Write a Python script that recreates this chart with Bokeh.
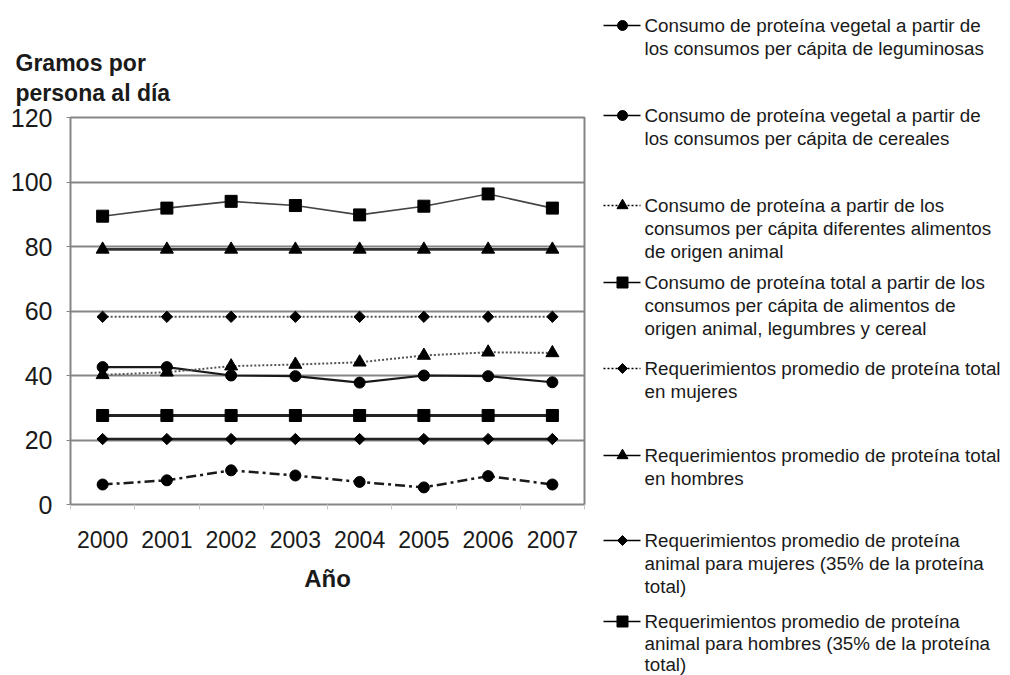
from bokeh.plotting import figure
from bokeh.layouts import row
from bokeh.models import Range1d, FixedTicker, Title
from bokeh.embed import file_html
from bokeh.resources import INLINE
from bokeh.core.properties import value

# ---------------- data ----------------
years = [2000, 2001, 2002, 2003, 2004, 2005, 2006, 2007]
leguminosas = [6.2, 7.5, 10.6, 9.0, 7.0, 5.3, 8.8, 6.2]
cereales = [42.6, 42.6, 40.0, 39.8, 37.8, 40.0, 39.8, 37.9]
animal = [40.2, 41.0, 42.9, 43.4, 44.1, 46.2, 47.2, 47.0]
total = [89.4, 91.9, 94.0, 92.7, 89.8, 92.5, 96.3, 91.9]
req_mujeres = [58.2, 58.2, 58.2, 58.2, 58.2, 58.2, 58.2, 58.2]
req_hombres = [79.1, 79.1, 79.1, 79.1, 79.1, 79.1, 79.1, 79.1]
req_animal_mujeres = [20.3, 20.3, 20.3, 20.3, 20.3, 20.3, 20.3, 20.3]
req_animal_hombres = [27.6, 27.6, 27.6, 27.6, 27.6, 27.6, 27.6, 27.6]
y_ticks = [0, 20, 40, 60, 80, 100, 120]

legend_labels = [
    "Consumo de proteína vegetal a partir de\nlos consumos per cápita de leguminosas",
    "Consumo de proteína vegetal a partir de\nlos consumos per cápita de cereales",
    "Consumo de proteína a partir de los\nconsumos per cápita diferentes alimentos\nde origen animal",
    "Consumo de proteína total a partir de los\nconsumos per cápita de alimentos de\norigen animal, legumbres y cereal",
    "Requerimientos promedio de proteína total\nen mujeres",
    "Requerimientos promedio de proteína total\nen hombres",
    "Requerimientos promedio de proteína\nanimal para mujeres (35% de la proteína\ntotal)",
    "Requerimientos promedio de proteína\nanimal para hombres (35% de la proteína\ntotal)",
]

FONT = "Liberation Sans"
INK = "#1a1a1a"
GRID = "#858585"
H = 675

# series styles: (values, marker, line_dash, line_color, line_width, marker_size, angle)
series = [
    (leguminosas, "circle", "10 4 3 4", "#1a1a1a", 2.5, 11, 0),
    (cereales, "circle", "solid", "#1a1a1a", 2.2, 11, 0),
    (animal, "triangle", "2 2", "#555555", 2.0, 13, 0),
    (total, "square", "solid", "#444444", 1.6, 12, 0),
    (req_mujeres, "square", "2 2", "#555555", 2.0, 8, 0.785398),
    (req_hombres, "triangle", "solid", "#333333", 2.6, 13, 0),
    (req_animal_mujeres, "square", "solid", "#222222", 2.6, 8, 0.785398),
    (req_animal_hombres, "square", "solid", "#222222", 2.8, 12, 0),
]
legend_series_dash = ["solid", "solid", "2 2", "solid", "2 2", "solid", "solid", "solid"]

# ---------------- main chart ----------------
p = figure(width=598, height=H,
           x_range=Range1d(1999.5, 2007.5), y_range=Range1d(0, 120),
           output_backend="svg", toolbar_location=None,
           min_border_left=70, min_border_right=14,
           min_border_top=117, min_border_bottom=H - 504)
p.background_fill_color = "white"
p.border_fill_color = "white"
p.outline_line_color = GRID
p.outline_line_width = 2

p.xgrid.visible = False
p.ygrid.grid_line_color = GRID
p.ygrid.grid_line_width = 2
p.yaxis.ticker = FixedTicker(ticks=y_ticks)
p.xaxis.ticker = FixedTicker(ticks=years, minor_ticks=[1999.5 + i for i in range(9)])
p.xaxis.major_label_overrides = {y: str(y) for y in years}

for ax in (p.xaxis, p.yaxis):
    ax.axis_line_color = None
    ax.major_label_text_font = FONT
    ax.major_label_text_color = INK
p.xaxis.major_tick_line_color = None
p.xaxis.major_label_text_font_size = "23px"
p.yaxis.major_label_text_font_size = "25px"
p.yaxis.major_tick_line_color = GRID
p.yaxis.major_tick_out = 4
p.yaxis.major_tick_in = 0
p.yaxis.minor_tick_line_color = None
p.xaxis.minor_tick_line_color = "#c8c8c8"
p.xaxis.minor_tick_out = 5
p.xaxis.minor_tick_in = 0
p.yaxis.major_label_standoff = 14
p.xaxis.major_label_standoff = 20

p.xaxis.axis_label = "Año"
p.xaxis.axis_label_text_font = FONT
p.xaxis.axis_label_text_font_size = "24px"
p.xaxis.axis_label_text_font_style = "bold"
p.xaxis.axis_label_text_color = INK
p.xaxis.axis_label_standoff = 14

p.add_layout(Title(text="Gramos por\npersona al día", align="left", offset=-55,
                   text_font=FONT, text_font_size="23px", text_font_style="bold",
                   text_color=INK, standoff=22, text_line_height=1.17), "above")

for vals, mk, dash, col, lw, ms, ang in series:
    p.line(years, vals, line_color=col, line_width=lw, line_dash=dash)
    p.scatter(years, vals, marker=mk, size=ms, angle=ang,
              fill_color="black", line_color="black")

# ---------------- legend panel ----------------
lg = figure(width=404, height=H, x_range=Range1d(0, 404), y_range=Range1d(H, 0),
            output_backend="svg", toolbar_location=None,
            x_axis_location=None, y_axis_location=None, min_border=0)
lg.grid.visible = False
lg.outline_line_color = None
lg.background_fill_color = "white"
lg.border_fill_color = "white"
for fig in (p, lg):
    if "frame_align" in fig.properties():
        fig.frame_align = False

entry_y = [25, 115, 205, 282, 368, 455, 540, 621]
line_pitch = [23, 23, 23, 23, 23, 23, 23, 21.5]
legend_marker_size = {"circle": 10, "square": 11, "triangle": 11}
for i, lab in enumerate(legend_labels):
    vals, mk, dash, col, lw, ms, ang = series[i]
    yy = entry_y[i]
    lg.line([5, 42], [yy, yy], line_color="black", line_width=1.6,
            line_dash=legend_series_dash[i])
    size = legend_marker_size[mk] if ang == 0 else 7
    lg.scatter([24], [yy], marker=mk, size=size, angle=-ang,
               fill_color="black", line_color="black")
    lines = lab.split("\n")
    lg.text([46] * len(lines), [yy + k * line_pitch[i] for k in range(len(lines))], text=lines,
            text_font=value(FONT), text_font_size="18.8px", text_color=INK,
            text_baseline="middle", text_align="left")

layout = row(p, lg)
open("out.html", "w").write(file_html(layout, INLINE))
